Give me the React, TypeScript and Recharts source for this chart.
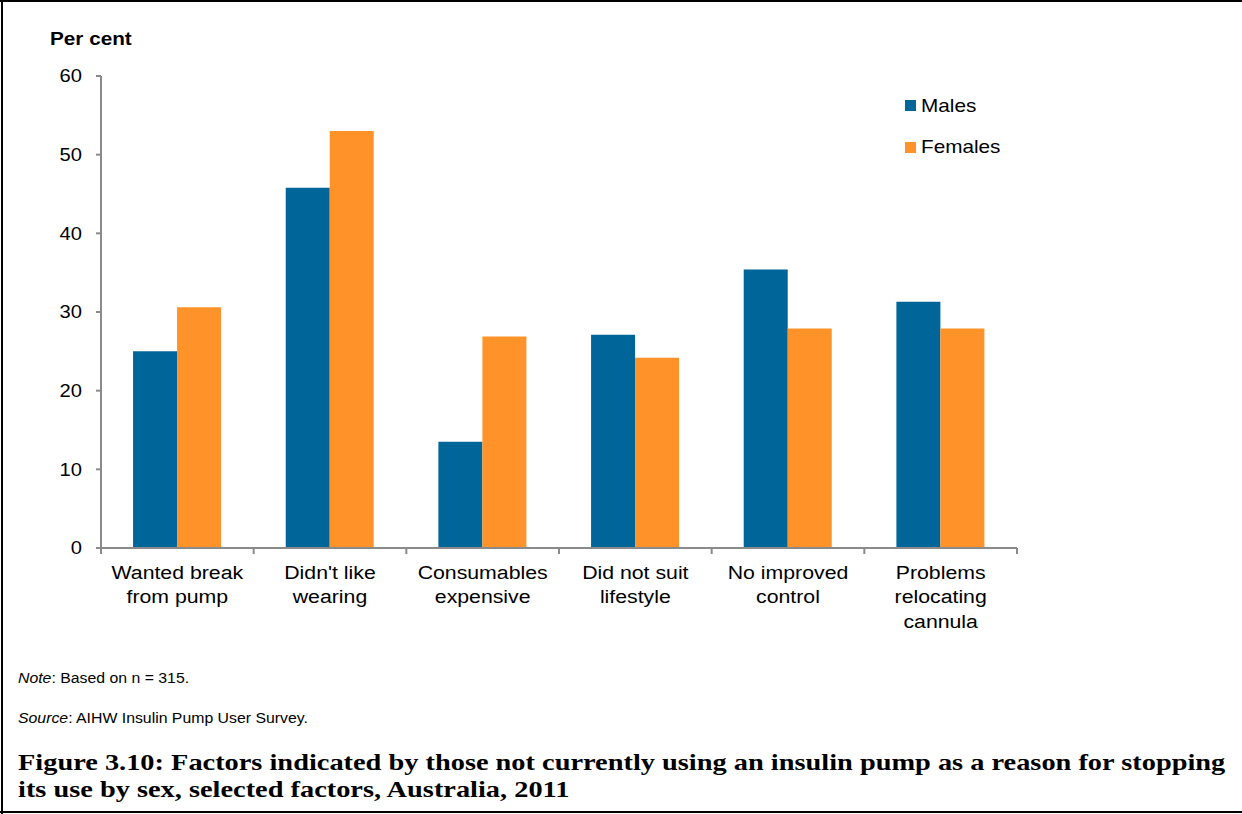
import React from 'react'
import { BarChart, Bar, XAxis, YAxis, Legend } from 'recharts'

const categories = [
  'Wanted break\nfrom pump',
  "Didn't like\nwearing",
  'Consumables\nexpensive',
  'Did not suit\nlifestyle',
  'No improved\ncontrol',
  'Problems\nrelocating\ncannula',
]
const males = [25.0, 45.8, 13.5, 27.1, 35.4, 31.3]
const females = [30.6, 53.0, 26.9, 24.2, 27.9, 27.9]
const yTicks = [0, 10, 20, 30, 40, 50, 60]
const seriesOrder = ['males', 'females']

const data = categories.map((name, i) => ({ name, males: males[i], females: females[i] }))

const W = 1242
const H = 814
const PLOT_LEFT = 101
const PLOT_RIGHT = 1017
const PLOT_TOP = 76
const PLOT_BOTTOM = 548
const PLOT_W = PLOT_RIGHT - PLOT_LEFT
const FONT = '"Liberation Sans", Arial, sans-serif'
const SERIF = '"Liberation Serif", "Times New Roman", serif'
const AXIS = '#8a8a8a'
const MALE = '#006699'
const FEMALE = '#FF9329'
// source picture is a little stretched sideways
const SX = 1.12

function XTick(props: any) {
  const { x, y, payload, index } = props
  const band = PLOT_W / categories.length
  const lines = String(payload.value).split('\n')
  return (
    <g>
      <line x1={x - band / 2} x2={x - band / 2} y1={y} y2={y + 6} stroke={AXIS} strokeWidth={2} />
      {index === categories.length - 1 && (
        <line x1={x + band / 2} x2={x + band / 2} y1={y} y2={y + 6} stroke={AXIS} strokeWidth={2} />
      )}
      <g transform={`translate(${x},${y}) scale(${SX},1)`}>
        <text textAnchor="middle" fontSize={19} fill="#000" fontFamily={FONT}>
          {lines.map((l, i) => (
            <tspan key={i} x={0} y={31 + i * 24.5}>
              {l}
            </tspan>
          ))}
        </text>
      </g>
    </g>
  )
}

function YTick(props: any) {
  const { x, y, payload } = props
  return (
    <g transform={`translate(${x},${y}) scale(${SX},1)`}>
      <text textAnchor="end" fontSize={18} fill="#000" fontFamily={FONT} dy="0.36em">
        {payload.value}
      </text>
    </g>
  )
}

const renderLegend = (props: any) => {
  const items = [...(props.payload || [])].sort(
    (a: any, b: any) => seriesOrder.indexOf(a.dataKey) - seriesOrder.indexOf(b.dataKey)
  )
  return (
    <div style={{ fontFamily: FONT }}>
      {items.map((p: any, i: number) => (
        <div key={i} style={{ display: 'flex', alignItems: 'center', height: 41.5 }}>
          <span style={{ display: 'inline-block', width: 11, height: 11, background: p.color, marginRight: 5 }} />
          <span
            style={{
              fontSize: 18.5,
              display: 'inline-block',
              transform: `scaleX(${SX})`,
              transformOrigin: 'left center',
              color: '#000',
            }}
          >
            {p.value}
          </span>
        </div>
      ))}
    </div>
  )
}

export default function App() {
  return (
    <div style={{ position: 'absolute', left: 0, top: 0, width: W, height: H, background: '#fff', overflow: 'hidden' }}>
      <div style={{ position: 'absolute', left: 0, top: 0, width: W, height: 2, background: '#000' }} />
      <div style={{ position: 'absolute', left: 1, top: 0, width: 2, height: H, background: '#000' }} />
      <div style={{ position: 'absolute', left: 0, top: 811, width: W, height: 2, background: '#000' }} />

      <div
        style={{
          position: 'absolute',
          left: 50,
          top: 30,
          fontFamily: FONT,
          fontWeight: 'bold',
          fontSize: 18.5,
          lineHeight: '18px',
          transform: `scaleX(${SX})`,
          transformOrigin: 'left',
          whiteSpace: 'nowrap',
        }}
      >
        Per cent
      </div>

      <div style={{ position: 'absolute', left: 0, top: 0 }}>
        <BarChart
          width={W}
          height={H}
          data={data}
          margin={{ top: PLOT_TOP, right: W - PLOT_RIGHT, bottom: H - PLOT_BOTTOM - 100, left: PLOT_LEFT - 60 }}
          barGap={0}
          barCategoryGap="21%"
        >
          <XAxis
            dataKey="name"
            height={100}
            interval={0}
            tickLine={false}
            tickSize={0}
            tickMargin={0}
            axisLine={{ stroke: AXIS, strokeWidth: 2 }}
            tick={<XTick />}
          />
          <YAxis
            width={60}
            domain={[0, 60]}
            ticks={yTicks}
            interval={0}
            tickSize={5}
            tickMargin={14}
            axisLine={{ stroke: AXIS, strokeWidth: 2 }}
            tickLine={{ stroke: AXIS, strokeWidth: 2 }}
            tick={<YTick />}
          />
          <Legend
            layout="horizontal"
            verticalAlign="middle"
            align="center"
            content={renderLegend}
            wrapperStyle={{ position: 'absolute', left: 905, top: 85, width: 150 }}
          />
          <Bar dataKey="males" name="Males" fill={MALE} isAnimationActive={false} />
          <Bar dataKey="females" name="Females" fill={FEMALE} isAnimationActive={false} />
        </BarChart>
      </div>

      <div
        style={{
          position: 'absolute',
          left: 18,
          top: 671,
          fontFamily: FONT,
          fontSize: 14,
          lineHeight: '14px',
          whiteSpace: 'nowrap',
          transform: 'scaleX(1.13)',
          transformOrigin: 'left',
        }}
      >
        <i>Note</i>: Based on n = 315.
      </div>
      <div
        style={{
          position: 'absolute',
          left: 18,
          top: 711,
          fontFamily: FONT,
          fontSize: 14,
          lineHeight: '14px',
          whiteSpace: 'nowrap',
          transform: 'scaleX(1.13)',
          transformOrigin: 'left',
        }}
      >
        <i>Source</i>: AIHW Insulin Pump User Survey.
      </div>
      <div
        style={{
          position: 'absolute',
          left: 18,
          top: 749,
          fontFamily: SERIF,
          fontWeight: 'bold',
          fontSize: 23,
          lineHeight: '27px',
          whiteSpace: 'nowrap',
          color: '#000',
          transform: 'scaleX(1.233)',
          transformOrigin: 'left',
        }}
      >
        Figure 3.10: Factors indicated by those not currently using an insulin pump as a reason for stopping
        <br />
        its use by sex, selected factors, Australia, 2011
      </div>
    </div>
  )
}
